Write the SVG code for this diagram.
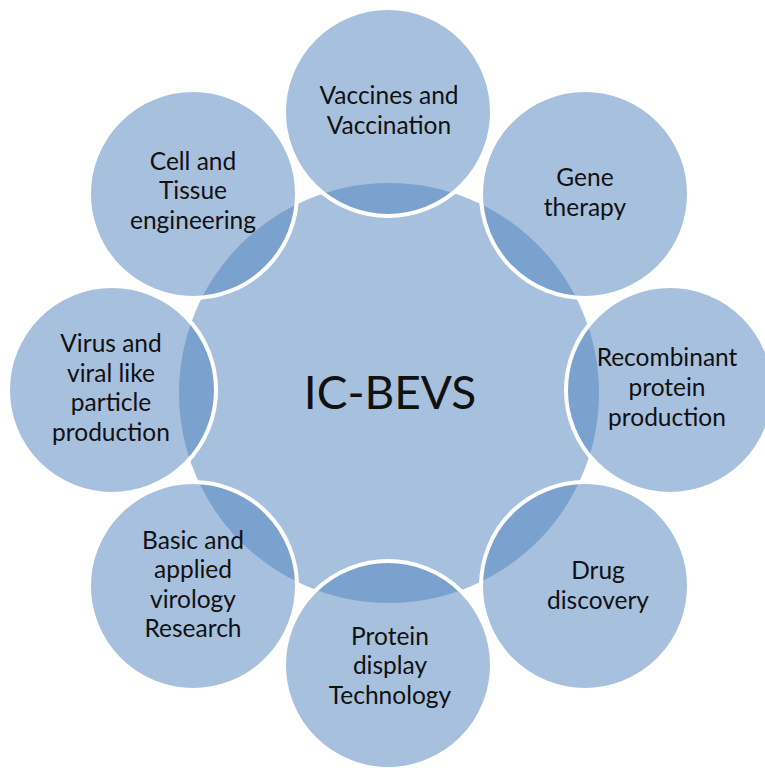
<svg xmlns="http://www.w3.org/2000/svg" width="765" height="768" viewBox="0 0 765 768">
  <style>
    .hub { fill: #4f81bd; fill-opacity: 0.5; }
    .spoke { fill: #4f81bd; fill-opacity: 0.5; stroke: #ffffff; stroke-width: 4; }
    .lbl { font-family: Lato, "Open Sans", "Liberation Sans", sans-serif; font-size: 24.5px; fill: #111111; text-anchor: middle; }
    .hubtxt { font-family: Lato, "Open Sans", "Liberation Sans", sans-serif; font-size: 46px; fill: #111111; text-anchor: middle; }
  </style>
  <rect width="765" height="768" fill="#ffffff"/>

  <!-- central hub -->
  <g id="hub">
    <circle class="hub" cx="389" cy="393" r="210"/>
  </g>

  <!-- application circles around the hub -->
  <g id="vaccines">
    <circle class="spoke" cx="388" cy="112" r="104"/>
  </g>
  <g id="gene-therapy">
    <circle class="spoke" cx="585" cy="194" r="104"/>
  </g>
  <g id="recombinant">
    <circle class="spoke" cx="670" cy="390" r="104"/>
  </g>
  <g id="drug-discovery">
    <circle class="spoke" cx="585" cy="586" r="104"/>
  </g>
  <g id="protein-display">
    <circle class="spoke" cx="388" cy="665" r="104"/>
  </g>
  <g id="virology">
    <circle class="spoke" cx="193" cy="586" r="104"/>
  </g>
  <g id="vlp">
    <circle class="spoke" cx="112" cy="390" r="104"/>
  </g>
  <g id="tissue">
    <circle class="spoke" cx="193" cy="194" r="104"/>
  </g>

  <!-- labels -->
  <g id="labels">
    <text class="hubtxt" x="390" y="409">IC-BEVS</text>

    <text class="lbl" x="389" y="104">Vaccines and</text>
    <text class="lbl" x="389" y="134">Vaccination</text>

    <text class="lbl" x="585" y="186">Gene</text>
    <text class="lbl" x="585" y="216">therapy</text>

    <text class="lbl" x="667" y="366">Recombinant</text>
    <text class="lbl" x="667" y="396">protein</text>
    <text class="lbl" x="667" y="426">production</text>

    <text class="lbl" x="598" y="579">Drug</text>
    <text class="lbl" x="598" y="609">discovery</text>

    <text class="lbl" x="390" y="645">Protein</text>
    <text class="lbl" x="390" y="674">display</text>
    <text class="lbl" x="390" y="704">Technology</text>

    <text class="lbl" x="193" y="549">Basic and</text>
    <text class="lbl" x="193" y="578">applied</text>
    <text class="lbl" x="193" y="608">virology</text>
    <text class="lbl" x="193" y="637">Research</text>

    <text class="lbl" x="111" y="352">Virus and</text>
    <text class="lbl" x="111" y="382">viral like</text>
    <text class="lbl" x="111" y="411">particle</text>
    <text class="lbl" x="111" y="441">production</text>

    <text class="lbl" x="193" y="170">Cell and</text>
    <text class="lbl" x="193" y="199">Tissue</text>
    <text class="lbl" x="193" y="229">engineering</text>
  </g>
</svg>
